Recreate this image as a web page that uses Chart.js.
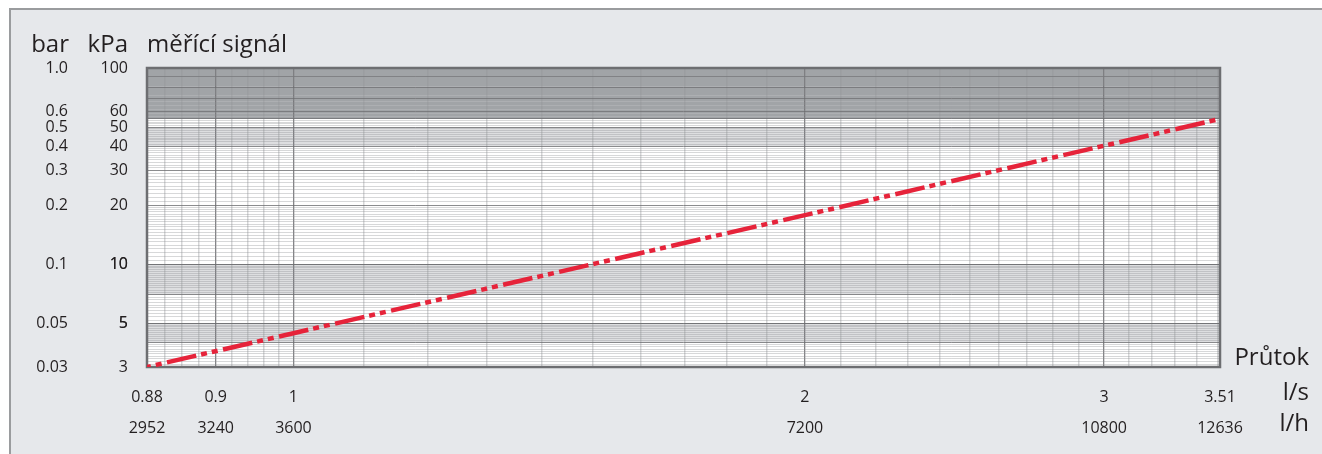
<!DOCTYPE html>
<html>
<head>
<meta charset="utf-8">
<title>měřící signál</title>
<script src="https://cdn.jsdelivr.net/npm/chart.js@4.4.1/dist/chart.umd.min.js"></script>
<style>
  html, body { margin: 0; padding: 0; background: #ffffff; overflow: hidden; }
  #panel {
    position: absolute; left: 9px; top: 8px; width: 1313px; height: 446px;
    background: #e6e8eb; border-top: 2px solid #9a9c9e; border-left: 2px solid #9a9c9e;
    box-sizing: border-box;
  }
  #wrap { position: absolute; left: 0; top: 0; width: 1322px; height: 454px; }
</style>
</head>
<body>
<div id="panel"></div>
<div id="wrap"><canvas id="chart" width="1322" height="454"></canvas></div>
<script>
// Flow axis: l/s and l/h
const flowTicks = [0.82, 0.9, 1, 2, 3, 3.51];
const flowTickLabels = ['0.88', '0.9', '1', '2', '3', '3.51'];
const flowHourTicks = [2952, 3240, 3600, 7200, 10800, 12636];
const flowHourLabels = ['2952', '3240', '3600', '7200', '10800', '12636'];
const flowMajorGrid = [0.9, 1, 2, 3];

// Pressure axis: kPa and bar
const kpaTicks = [3, 5, 10, 20, 30, 40, 50, 60, 100];
const kpaLabels = ['3', '5', '10', '20', '30', '40', '50', '60', '100'];
const barTicks = [0.03, 0.05, 0.1, 0.2, 0.3, 0.4, 0.5, 0.6, 1.0];
const barLabels = ['0.03', '0.05', '0.1', '0.2', '0.3', '0.4', '0.5', '0.6', '1.0'];
const kpaMajorGrid = [3, 4, 5, 7, 10, 20, 30, 40, 50, 55, 60, 70, 80, 90, 100];

// Measuring signal: flow (l/s) vs. differential pressure (kPa)
const flowValues = [0.82, 1, 2, 3, 3.51];
const pressureValues = [3, 4.46, 17.8, 40.2, 55];

// Shaded pressure bands (kPa)
const darkBand = [55, 100];
const lightBands = [[40, 50], [7, 10], [4, 5]];

const FONT = "'Open Sans', 'Noto Sans', 'DejaVu Sans', sans-serif";
const TEXT = '#231f20';

const r2 = v => Math.round(v * 1000) / 1000;

// fine grid positions for the flow axis
function flowGridValues() {
  const vals = [];
  for (let v = 0.82; v < 0.999; v += 0.02) vals.push(r2(v));
  for (let v = 1; v < 3.505; v += 0.1) vals.push(r2(v));
  vals.push(3.51);
  return vals;
}
// fine grid positions for the pressure axis
function kpaGridValues() {
  const vals = [];
  for (let v = 3; v < 5; v += 0.1) vals.push(r2(v));
  for (let v = 5; v < 10; v += 0.2) vals.push(r2(v));
  for (let v = 10; v < 20; v += 0.5) vals.push(r2(v));
  for (let v = 20; v <= 100; v += 1) vals.push(r2(v));
  return vals;
}

const isIn = (arr, v) => arr.some(a => Math.abs(a - v) < 1e-6);

const bandsPlugin = {
  id: 'bands',
  beforeDraw(chart) {
    const { ctx, chartArea: a, scales } = chart;
    const y = scales.y;
    ctx.save();
    ctx.fillStyle = '#ffffff';
    ctx.fillRect(a.left, a.top, a.right - a.left, a.bottom - a.top);
    ctx.fillStyle = '#dddee0';
    lightBands.forEach(([lo, hi]) => {
      const t = y.getPixelForValue(hi), b = y.getPixelForValue(lo);
      ctx.fillRect(a.left, t, a.right - a.left, b - t);
    });
    ctx.fillStyle = '#adafb2';
    const t = y.getPixelForValue(darkBand[1]), b = y.getPixelForValue(darkBand[0]);
    ctx.fillRect(a.left, t, a.right - a.left, b - t);
    ctx.restore();
  },
  beforeDatasetsDraw(chart) {
    const { ctx, chartArea: a } = chart;
    ctx.save();
    ctx.strokeStyle = '#6d6e71';
    ctx.lineWidth = 2.5;
    ctx.strokeRect(a.left, a.top, a.right - a.left, a.bottom - a.top);
    ctx.restore();
  }
};

const labelsPlugin = {
  id: 'labels',
  afterDraw(chart) {
    const { ctx, chartArea: a, scales } = chart;
    ctx.save();
    ctx.fillStyle = TEXT;
    ctx.textBaseline = 'alphabetic';
    ctx.font = '24px ' + FONT;
    ctx.textAlign = 'right';
    ctx.fillText('bar', scales.yBar.right - scales.yBar.options.ticks.padding + 1, 52);
    ctx.fillText('kPa', scales.y.right - scales.y.options.ticks.padding, 52);
    ctx.textAlign = 'left';
    ctx.fillText('měřící signál', a.left, 52);
    ctx.textAlign = 'right';
    ctx.font = '24px ' + FONT;
    ctx.fillText('Průtok', 1309, 365);
    ctx.fillText('l/s', 1309, 400);
    ctx.fillText('l/h', 1309, 431);
    ctx.restore();
  }
};

new Chart(document.getElementById('chart'), {
  type: 'line',
  data: {
    datasets: [{
      label: 'měřící signál',
      data: flowValues.map((f, i) => ({ x: f, y: pressureValues[i] })),
      borderColor: '#e6233a',
      borderWidth: 4.5,
      borderCapStyle: 'butt',
      borderDash: [30, 5, 6, 5, 6, 5.5],
      borderDashOffset: 37,
      pointRadius: 0,
      fill: false,
      tension: 0,
      xAxisID: 'x',
      yAxisID: 'y'
    }]
  },
  options: {
    responsive: false,
    animation: false,
    devicePixelRatio: 1,
    layout: { padding: { left: 25, right: 102, top: 68, bottom: 18 } },
    plugins: { legend: { display: false }, title: { display: false }, tooltip: { enabled: false } },
    font: { family: FONT },
    scales: {
      x: {
        type: 'logarithmic',
        position: 'bottom',
        min: 0.82, max: 3.51,
        weight: 0,
        afterBuildTicks: s => { s.ticks = flowGridValues().map(v => ({ value: v })); },
        afterFit: s => { s.height = 37; },
        ticks: {
          autoSkip: false, maxRotation: 0, minRotation: 0, padding: 21,
          color: TEXT, font: { family: FONT, size: 16 },
          callback: v => { const i = flowTicks.findIndex(t => Math.abs(t - v) < 1e-6); return i >= 0 ? flowTickLabels[i] : ''; }
        },
        grid: {
          drawTicks: false,
          color: c => isIn(flowMajorGrid, c.tick.value) ? 'rgba(110,111,114,0.85)' : 'rgba(150,152,155,0.4)',
          lineWidth: c => isIn(flowMajorGrid, c.tick.value) ? 1.3 : 1.5
        },
        border: { display: false }
      },
      xh: {
        type: 'logarithmic',
        position: 'bottom',
        min: 2952, max: 12636,
        weight: 1,
        afterBuildTicks: s => { s.ticks = flowHourTicks.map(v => ({ value: v })); },
        afterFit: s => { s.height = 32; },
        ticks: {
          autoSkip: false, maxRotation: 0, minRotation: 0, padding: 15,
          color: TEXT, font: { family: FONT, size: 16 },
          callback: (v, i) => flowHourLabels[i]
        },
        grid: { display: false, drawTicks: false },
        border: { display: false }
      },
      y: {
        type: 'logarithmic',
        position: 'left',
        min: 3, max: 100,
        weight: 0,
        afterBuildTicks: s => { s.ticks = kpaGridValues().map(v => ({ value: v })); },
        afterFit: s => { s.width = 47; },
        ticks: {
          autoSkip: false, padding: 19,
          color: TEXT, font: { family: FONT, size: 16 },
          callback: v => { const i = kpaTicks.findIndex(t => Math.abs(t - v) < 1e-6); return i >= 0 ? kpaLabels[i] : ''; }
        },
        grid: {
          drawTicks: false,
          color: c => isIn(kpaMajorGrid, c.tick.value) ? 'rgba(110,111,114,0.8)' : 'rgba(140,142,145,0.35)',
          lineWidth: 1
        },
        border: { display: false }
      },
      yBar: {
        type: 'logarithmic',
        position: 'left',
        min: 0.03, max: 1.0,
        weight: 1,
        afterBuildTicks: s => { s.ticks = barTicks.map(v => ({ value: v })); },
        afterFit: s => { s.width = 75; },
        ticks: {
          autoSkip: false, padding: 32,
          color: TEXT, font: { family: FONT, size: 16 },
          callback: (v, i) => barLabels[i]
        },
        grid: { display: false, drawTicks: false },
        border: { display: false }
      }
    }
  },
  plugins: [bandsPlugin, labelsPlugin]
});
</script>
</body>
</html>
